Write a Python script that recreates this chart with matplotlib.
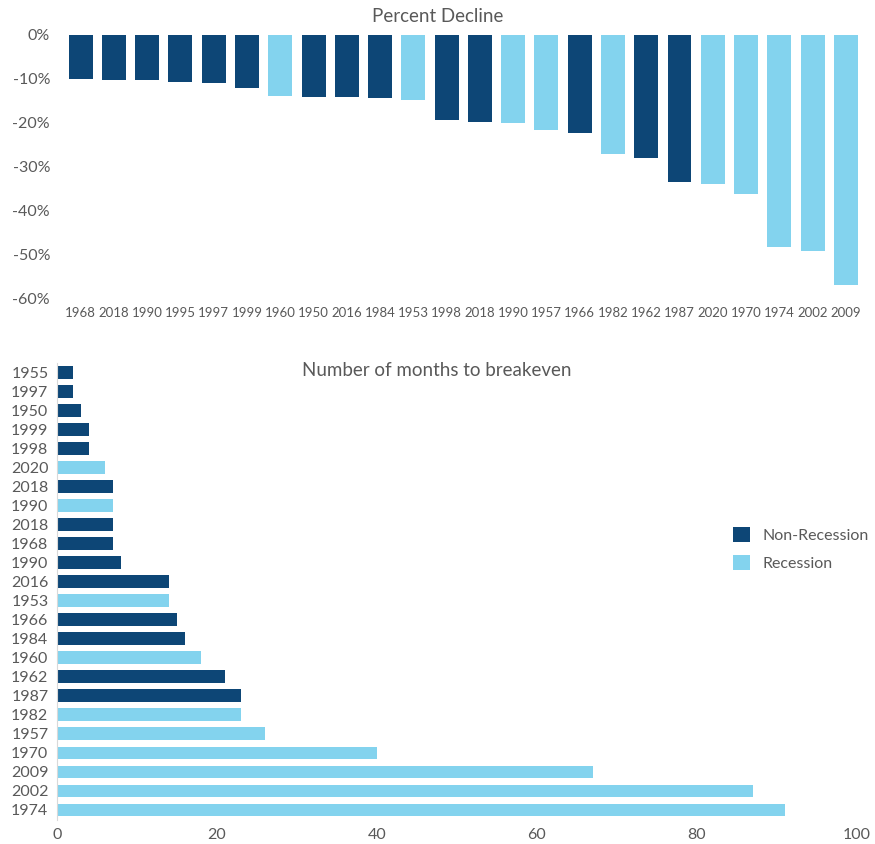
import matplotlib
matplotlib.use("Agg")
import matplotlib.pyplot as plt
from matplotlib.patches import Patch
from matplotlib.ticker import FuncFormatter

plt.rcParams['font.family'] = ['Lato', 'DejaVu Sans']

# Percent decline of each market drawdown, ordered by severity
decline_years = ['1968', '2018', '1990', '1995', '1997', '1999', '1960', '1950',
                 '2016', '1984', '1953', '1998', '2018', '1990', '1957', '1966',
                 '1982', '1962', '1987', '2020', '1970', '1974', '2002', '2009']
decline_pct = [-10.1, -10.2, -10.2, -10.6, -10.8, -12.1, -13.9, -14.0,
               -14.2, -14.4, -14.8, -19.3, -19.8, -19.9, -21.6, -22.2,
               -27.1, -28.0, -33.5, -33.9, -36.1, -48.2, -49.1, -56.8]
decline_recession = [0, 0, 0, 0, 0, 0, 1, 0, 0, 0, 1, 0, 0, 1, 1, 0,
                     1, 0, 0, 1, 1, 1, 1, 1]

# Months needed to recover to the prior peak
breakeven_years = ['1955', '1997', '1950', '1999', '1998', '2020', '2018', '1990',
                   '2018', '1968', '1990', '2016', '1953', '1966', '1984', '1960',
                   '1962', '1987', '1982', '1957', '1970', '2009', '2002', '1974']
breakeven_months = [2, 2, 3, 4, 4, 6, 7, 7, 7, 7, 8, 14, 14, 15, 16, 18,
                    21, 23, 23, 26, 40, 67, 87, 91]
breakeven_recession = [0, 0, 0, 0, 0, 1, 0, 1, 0, 0, 0, 0, 1, 0, 0, 1,
                       0, 0, 1, 1, 1, 1, 1, 1]

DARK = '#0D4676'
LIGHT = '#83D3EE'
TEXT = '#595959'

W, H = 875, 844
fig = plt.figure(figsize=(W / 100, H / 100), dpi=100)


def px_axes(left, top, right, bottom):
    return fig.add_axes([left / W, 1 - bottom / H, (right - left) / W, (bottom - top) / H])


# ---- Percent decline (column chart) ----
ax1 = px_axes(64, 35, 862.5, 299)
x = range(len(decline_years))
ax1.bar(x, decline_pct, width=0.72,
        color=[LIGHT if r else DARK for r in decline_recession])
ax1.set_ylim(-60, 0)
ax1.set_xlim(-0.5, len(decline_years) - 0.5)
ax1.set_yticks(range(-60, 1, 10))
ax1.yaxis.set_major_formatter(FuncFormatter(lambda v, p: f"{int(v)}%"))
ax1.set_xticks(list(x))
ax1.set_xticklabels(decline_years, fontsize=9.5, color=TEXT)
ax1.tick_params(axis='y', labelsize=11.5, labelcolor=TEXT, length=0, pad=10)
ax1.tick_params(axis='x', length=0, pad=6)
for s in ax1.spines.values():
    s.set_visible(False)
fig.text(438 / W, 1 - 17 / H, 'Percent Decline', ha='center', va='center',
         fontsize=13.5, color=TEXT)

# ---- Months to breakeven (horizontal bar chart) ----
ax2 = px_axes(56.7, 362.8, 856.7, 819.5)
y = range(len(breakeven_years))
ax2.barh(y, breakeven_months, height=0.67,
         color=[LIGHT if r else DARK for r in breakeven_recession])
ax2.set_ylim(len(breakeven_years) - 0.5, -0.5)
ax2.set_xlim(0, 100)
ax2.set_xticks(range(0, 101, 20))
ax2.set_yticks(list(y))
ax2.set_yticklabels(breakeven_years)
ax2.tick_params(axis='y', labelsize=11.5, labelcolor=TEXT, length=0, pad=6)
ax2.tick_params(axis='x', labelsize=11.5, labelcolor=TEXT, length=0, pad=6)
for name, s in ax2.spines.items():
    s.set_visible(name == 'left')
ax2.spines['left'].set_color('#D9D9D9')
fig.text(437 / W, 1 - 371 / H, 'Number of months to breakeven', ha='center',
         va='center', fontsize=13.5, color=TEXT)

handles = [Patch(facecolor=DARK, label='Non-Recession'),
           Patch(facecolor=LIGHT, label='Recession')]
fig.legend(handles=handles, loc='center left',
           bbox_to_anchor=(719 / W, 1 - 549 / H), frameon=False,
           fontsize=11.5, labelcolor=TEXT, handlelength=1.05, handleheight=1.05,
           handletextpad=0.8, labelspacing=0.75)

fig.savefig('out.png', dpi=100)
